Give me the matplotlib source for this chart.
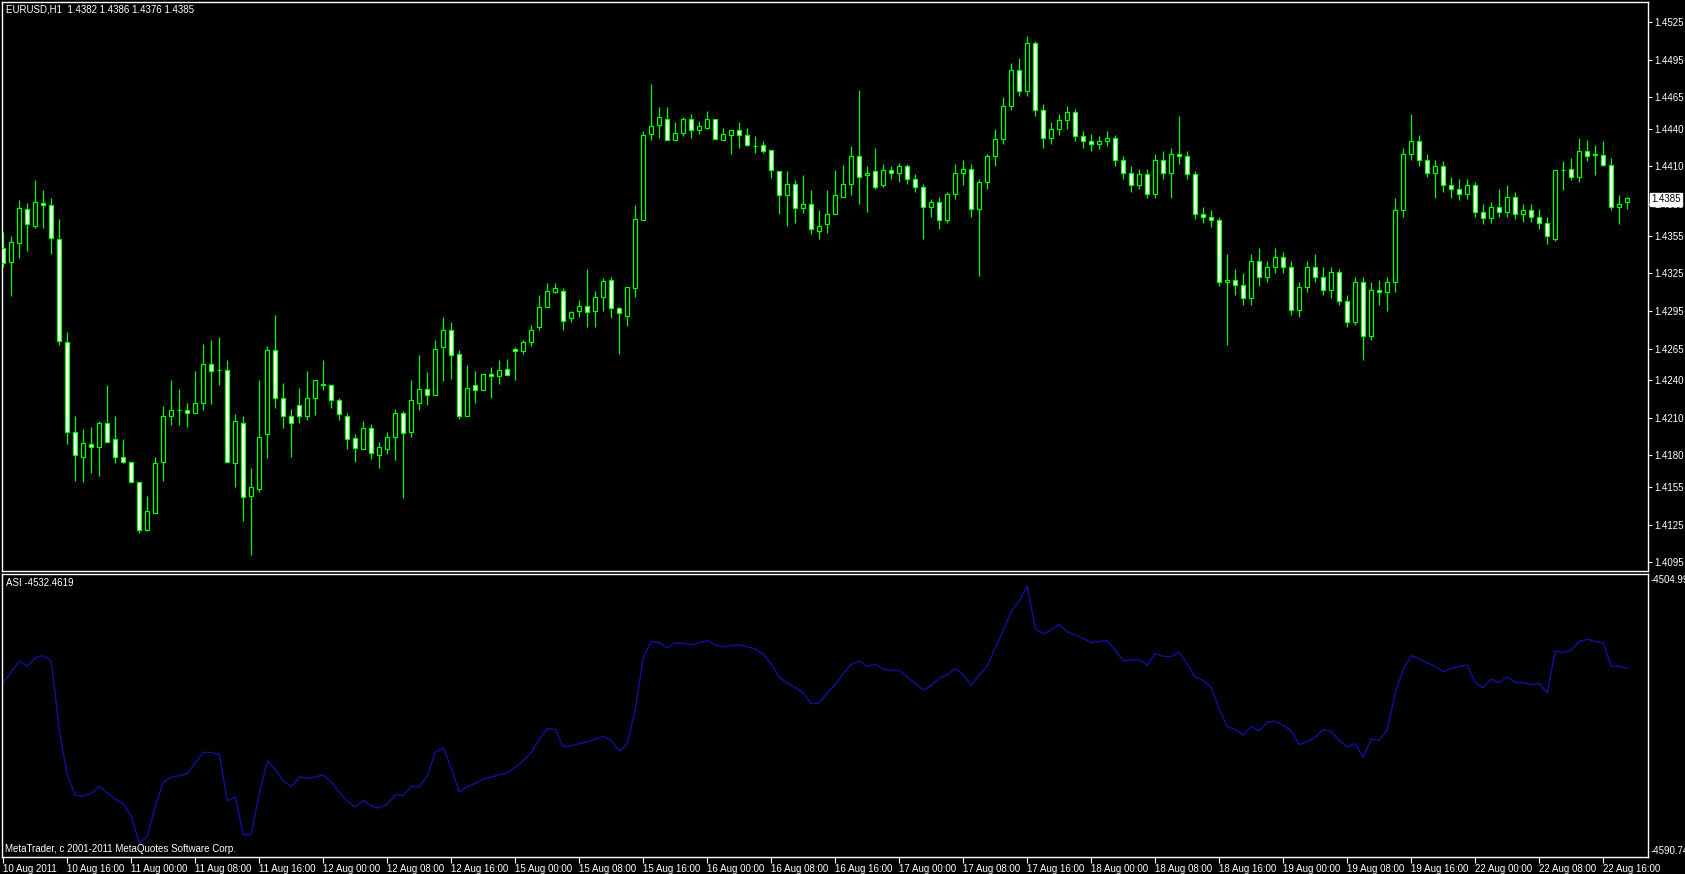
import matplotlib
matplotlib.use("Agg")
import matplotlib.pyplot as plt

W, H = 1685, 874
LIME, ASI_BLUE = "#00FF00", "#1010A0"
plt.rcParams.update({"font.family": "Liberation Sans", "font.size": 7})

header = "EURUSD,H1  1.4382 1.4386 1.4376 1.4385"
asi_title = "ASI -4532.4619"
credit = "MetaTrader, c 2001-2011 MetaQuotes Software Corp."
last_price = 1.4385
asi_max, asi_min = -4504.99, -4590.74

opens = [1.4345, 1.4334, 1.4349, 1.4376, 1.4363, 1.4381, 1.4379, 1.4352, 1.4270, 1.4199,
         1.4179, 1.4189, 1.4187, 1.4206, 1.4193, 1.4179, 1.4175, 1.4159, 1.4121, 1.4134,
         1.4175, 1.4211, 1.4216, 1.4216, 1.4214, 1.4222, 1.4253, 1.4248, 1.4248, 1.4174,
         1.4206, 1.4148, 1.4153, 1.4197, 1.4264, 1.4226, 1.4211, 1.4220, 1.4211, 1.4226,
         1.4237, 1.4236, 1.4224, 1.4211, 1.4194, 1.4185, 1.4202, 1.4180, 1.4185, 1.4195,
         1.4214, 1.4199, 1.4222, 1.4233, 1.4228, 1.4266, 1.4280, 1.4261, 1.4211, 1.4236,
         1.4232, 1.4245, 1.4243, 1.4249, 1.4265, 1.4263, 1.4270, 1.4282, 1.4298, 1.4310,
         1.4311, 1.4289, 1.4295, 1.4299, 1.4295, 1.4306, 1.4320, 1.4297, 1.4291, 1.4313,
         1.4367, 1.4436, 1.4443, 1.4448, 1.4431, 1.4437, 1.4448, 1.4439, 1.4441, 1.4448,
         1.4431, 1.4435, 1.4439, 1.4435, 1.4426, 1.4427, 1.4423, 1.4406, 1.4387, 1.4396,
         1.4377, 1.4380, 1.4359, 1.4364, 1.4372, 1.4386, 1.4396, 1.4418, 1.4403, 1.4406,
         1.4395, 1.4407, 1.4405, 1.4410, 1.4400, 1.4394, 1.4378, 1.4382, 1.4367, 1.4388,
         1.4405, 1.4408, 1.4376, 1.4398, 1.4418, 1.4432, 1.4458, 1.4487, 1.4470, 1.4508,
         1.4455, 1.4433, 1.4440, 1.4447, 1.4453, 1.4434, 1.4430, 1.4428, 1.4430, 1.4433,
         1.4415, 1.4405, 1.4395, 1.4404, 1.4388, 1.4415, 1.4405, 1.4420, 1.4418, 1.4404,
         1.4372, 1.4370, 1.4367, 1.4318, 1.4320, 1.4316, 1.4305, 1.4335, 1.4322, 1.4330,
         1.4338, 1.4330, 1.4296, 1.4314, 1.4330, 1.4322, 1.4312, 1.4326, 1.4303, 1.4286,
         1.4318, 1.4275, 1.4312, 1.4310, 1.4318, 1.4375, 1.4420, 1.4430, 1.4415, 1.4405,
         1.4410, 1.4395, 1.4392, 1.4388, 1.4395, 1.4374, 1.4369, 1.4378, 1.4374, 1.4386,
         1.4372, 1.4375, 1.4370, 1.4365, 1.4352, 1.4407, 1.4408, 1.4402, 1.4422, 1.4420,
         1.4419, 1.4411, 1.4378, 1.4382]
highs = [1.4358, 1.4355, 1.4383, 1.4381, 1.4399, 1.4391, 1.4385, 1.4368, 1.4278, 1.4211,
         1.4201, 1.4203, 1.4207, 1.4236, 1.4211, 1.4193, 1.4175, 1.4159, 1.4148, 1.4179,
         1.4219, 1.4240, 1.4233, 1.4222, 1.4247, 1.4269, 1.4272, 1.4274, 1.4256, 1.4213,
         1.4211, 1.4170, 1.4240, 1.4267, 1.4292, 1.4238, 1.4217, 1.4234, 1.4247, 1.4240,
         1.4256, 1.4237, 1.4226, 1.4214, 1.4197, 1.4207, 1.4205, 1.4191, 1.4199, 1.4217,
         1.4215, 1.4240, 1.4260, 1.4246, 1.4272, 1.4290, 1.4286, 1.4264, 1.4252, 1.4247,
         1.4245, 1.4250, 1.4256, 1.4257, 1.4266, 1.4272, 1.4284, 1.4308, 1.4317, 1.4317,
         1.4313, 1.4295, 1.4304, 1.4328, 1.4311, 1.4321, 1.4322, 1.4298, 1.4314, 1.4379,
         1.4438, 1.4476, 1.4457, 1.4457, 1.4445, 1.4449, 1.4452, 1.4446, 1.4454, 1.4448,
         1.4441, 1.4439, 1.4445, 1.4441, 1.4434, 1.4430, 1.4423, 1.4406, 1.4406, 1.4399,
         1.4403, 1.4391, 1.4375, 1.4391, 1.4407, 1.4411, 1.4426, 1.4471, 1.4410, 1.4425,
         1.4412, 1.4410, 1.4413, 1.4412, 1.4404, 1.4396, 1.4384, 1.4386, 1.4390, 1.4412,
         1.4415, 1.4412, 1.4400, 1.4420, 1.4440, 1.4465, 1.4492, 1.4496, 1.4514, 1.4510,
         1.4460, 1.4445, 1.4452, 1.4458, 1.4456, 1.4438, 1.4436, 1.4434, 1.4438, 1.4435,
         1.4418, 1.4410, 1.4408, 1.4408, 1.4420, 1.4422, 1.4425, 1.4450, 1.4422, 1.4406,
         1.4378, 1.4375, 1.4370, 1.4340, 1.4328, 1.4325, 1.4340, 1.4345, 1.4335, 1.4345,
         1.4342, 1.4335, 1.4318, 1.4335, 1.4340, 1.4330, 1.4330, 1.4328, 1.4308, 1.4322,
         1.4322, 1.4318, 1.4320, 1.4322, 1.4385, 1.4425, 1.4452, 1.4435, 1.4420, 1.4415,
         1.4414, 1.4402, 1.4400, 1.4400, 1.4398, 1.4380, 1.4382, 1.4392, 1.4395, 1.4390,
         1.4380, 1.4380, 1.4376, 1.4370, 1.4407, 1.4414, 1.4417, 1.4433, 1.4431, 1.4427,
         1.4430, 1.4417, 1.4387, 1.4386]
lows = [1.4330, 1.4307, 1.4337, 1.4343, 1.4361, 1.4361, 1.4340, 1.4268, 1.4189, 1.4160,
        1.4159, 1.4166, 1.4164, 1.4191, 1.4174, 1.4174, 1.4159, 1.4118, 1.4120, 1.4134,
        1.4160, 1.4204, 1.4204, 1.4203, 1.4214, 1.4216, 1.4221, 1.4236, 1.4174, 1.4155,
        1.4128, 1.4101, 1.4151, 1.4178, 1.4218, 1.4202, 1.4179, 1.4206, 1.4208, 1.4212,
        1.4232, 1.4218, 1.4208, 1.4185, 1.4175, 1.4185, 1.4177, 1.4170, 1.4181, 1.4176,
        1.4146, 1.4195, 1.4216, 1.4220, 1.4228, 1.4239, 1.4241, 1.4209, 1.4211, 1.4222,
        1.4232, 1.4226, 1.4237, 1.4244, 1.4240, 1.4261, 1.4267, 1.4280, 1.4298, 1.4309,
        1.4280, 1.4286, 1.4290, 1.4282, 1.4282, 1.4295, 1.4289, 1.4261, 1.4283, 1.4306,
        1.4367, 1.4431, 1.4433, 1.4431, 1.4431, 1.4434, 1.4433, 1.4436, 1.4440, 1.4432,
        1.4431, 1.4420, 1.4425, 1.4426, 1.4421, 1.4421, 1.4401, 1.4372, 1.4363, 1.4365,
        1.4373, 1.4356, 1.4352, 1.4357, 1.4372, 1.4386, 1.4387, 1.4380, 1.4374, 1.4392,
        1.4394, 1.4400, 1.4398, 1.4396, 1.4390, 1.4352, 1.4370, 1.4360, 1.4365, 1.4384,
        1.4395, 1.4370, 1.4323, 1.4392, 1.4410, 1.4428, 1.4455, 1.4466, 1.4466, 1.4450,
        1.4425, 1.4428, 1.4435, 1.4440, 1.4430, 1.4425, 1.4422, 1.4424, 1.4426, 1.4410,
        1.4400, 1.4390, 1.4392, 1.4385, 1.4385, 1.4400, 1.4385, 1.4412, 1.4400, 1.4368,
        1.4365, 1.4362, 1.4315, 1.4268, 1.4308, 1.4300, 1.4300, 1.4315, 1.4318, 1.4325,
        1.4325, 1.4292, 1.4290, 1.4310, 1.4318, 1.4308, 1.4305, 1.4300, 1.4282, 1.4284,
        1.4256, 1.4272, 1.4300, 1.4295, 1.4310, 1.4370, 1.4415, 1.4410, 1.4402, 1.4385,
        1.4390, 1.4385, 1.4383, 1.4384, 1.4370, 1.4364, 1.4365, 1.4370, 1.4370, 1.4368,
        1.4366, 1.4366, 1.4360, 1.4348, 1.4351, 1.4391, 1.4399, 1.4398, 1.4414, 1.4403,
        1.4410, 1.4375, 1.4364, 1.4376]
closes = [1.4333, 1.4350, 1.4377, 1.4364, 1.4382, 1.4379, 1.4353, 1.4271, 1.4199, 1.4180,
          1.4190, 1.4187, 1.4206, 1.4191, 1.4179, 1.4175, 1.4159, 1.4121, 1.4136, 1.4174,
          1.4211, 1.4216, 1.4216, 1.4214, 1.4222, 1.4253, 1.4247, 1.4248, 1.4175, 1.4207,
          1.4147, 1.4155, 1.4195, 1.4264, 1.4226, 1.4211, 1.4206, 1.4211, 1.4226, 1.4240,
          1.4236, 1.4224, 1.4213, 1.4193, 1.4186, 1.4202, 1.4182, 1.4187, 1.4195, 1.4214,
          1.4198, 1.4224, 1.4233, 1.4228, 1.4265, 1.4280, 1.4260, 1.4211, 1.4234, 1.4232,
          1.4245, 1.4243, 1.4248, 1.4244, 1.4263, 1.4270, 1.4280, 1.4298, 1.4311, 1.4313,
          1.4287, 1.4294, 1.4299, 1.4294, 1.4306, 1.4319, 1.4297, 1.4293, 1.4314, 1.4368,
          1.4435, 1.4442, 1.4449, 1.4431, 1.4437, 1.4448, 1.4439, 1.4442, 1.4448, 1.4432,
          1.4436, 1.4439, 1.4435, 1.4427, 1.4426, 1.4422, 1.4407, 1.4387, 1.4396, 1.4377,
          1.4380, 1.4360, 1.4363, 1.4372, 1.4387, 1.4396, 1.4418, 1.4402, 1.4405, 1.4394,
          1.4407, 1.4405, 1.4410, 1.4400, 1.4394, 1.4378, 1.4382, 1.4367, 1.4388, 1.4405,
          1.4408, 1.4376, 1.4398, 1.4418, 1.4432, 1.4458, 1.4487, 1.4470, 1.4508, 1.4455,
          1.4433, 1.4440, 1.4447, 1.4453, 1.4434, 1.4430, 1.4428, 1.4430, 1.4433, 1.4415,
          1.4405, 1.4395, 1.4404, 1.4388, 1.4415, 1.4405, 1.4420, 1.4418, 1.4404, 1.4372,
          1.4370, 1.4367, 1.4318, 1.4320, 1.4316, 1.4305, 1.4335, 1.4322, 1.4330, 1.4338,
          1.4330, 1.4296, 1.4314, 1.4330, 1.4322, 1.4312, 1.4326, 1.4303, 1.4286, 1.4318,
          1.4275, 1.4312, 1.4310, 1.4318, 1.4375, 1.4420, 1.4430, 1.4415, 1.4405, 1.4410,
          1.4395, 1.4392, 1.4388, 1.4395, 1.4374, 1.4369, 1.4378, 1.4374, 1.4386, 1.4372,
          1.4375, 1.4370, 1.4365, 1.4355, 1.4407, 1.4407, 1.4402, 1.4422, 1.4418, 1.4419,
          1.4411, 1.4378, 1.4380, 1.4385]
asi = [-4537.2, -4533.6, -4530.0, -4531.8, -4528.9, -4528.2, -4530.0, -4553.3, -4568.3, -4574.8,
       -4575.1, -4574.1, -4571.9, -4574.1, -4576.2, -4577.7, -4582.0, -4590.74, -4588.4, -4578.4,
       -4570.5, -4568.7, -4568.3, -4567.6, -4564.0, -4560.5, -4560.5, -4561.2, -4576.6, -4575.5,
       -4588.1, -4587.7, -4574.1, -4563.3, -4566.2, -4570.1, -4571.9, -4568.7, -4569.1, -4568.7,
       -4568.0, -4570.5, -4573.7, -4576.9, -4578.7, -4576.6, -4578.4, -4579.1, -4577.7, -4574.8,
       -4574.8, -4571.9, -4571.9, -4568.3, -4560.5, -4559.0, -4565.8, -4573.7, -4571.9, -4570.8,
       -4569.4, -4568.7, -4568.0, -4567.3, -4565.5, -4563.3, -4560.5, -4556.1, -4552.6, -4552.9,
       -4558.7, -4558.3, -4557.6, -4556.9, -4556.1, -4555.1, -4556.5, -4560.1, -4557.6, -4546.1,
       -4528.9, -4523.5, -4523.9, -4525.7, -4523.9, -4524.2, -4524.6, -4523.9, -4523.2, -4524.6,
       -4525.3, -4524.9, -4524.6, -4525.3, -4526.0, -4527.8, -4531.1, -4535.4, -4537.5, -4538.9,
       -4540.7, -4544.3, -4544.0, -4540.7, -4537.9, -4534.3, -4531.1, -4530.0, -4531.8, -4531.1,
       -4532.8, -4533.2, -4533.2, -4535.4, -4537.5, -4539.7, -4538.2, -4535.7, -4534.6, -4532.5,
       -4534.6, -4538.2, -4534.6, -4531.8, -4525.7, -4519.9, -4513.5, -4509.9, -4504.99, -4519.2,
       -4521.0, -4519.6, -4517.8, -4520.3, -4521.4, -4522.5, -4523.9, -4523.5, -4523.2, -4526.4,
       -4530.0, -4529.6, -4529.6, -4531.4, -4527.5, -4528.5, -4528.5, -4527.1, -4531.1, -4535.4,
       -4536.4, -4538.9, -4546.1, -4551.9, -4552.9, -4554.7, -4551.9, -4553.3, -4550.4, -4550.1,
       -4551.5, -4553.3, -4557.9, -4556.9, -4555.4, -4552.9, -4553.6, -4556.5, -4558.7, -4557.6,
       -4562.2, -4556.1, -4556.5, -4552.9, -4540.7, -4532.8, -4528.2, -4529.3, -4530.7, -4531.8,
       -4533.6, -4532.5, -4531.8, -4531.4, -4537.2, -4538.9, -4536.1, -4537.2, -4535.4, -4537.2,
       -4537.2, -4537.9, -4537.5, -4540.7, -4526.7, -4527.1, -4526.4, -4523.5, -4522.8, -4523.5,
       -4523.9, -4531.8, -4531.8, -4532.46]

price_ticks = [1.4525, 1.4495, 1.4465, 1.4440, 1.4410, 1.4380, 1.4355, 1.4325,
               1.4295, 1.4265, 1.4240, 1.4210, 1.4180, 1.4155, 1.4125, 1.4095]
time_labels = ["10 Aug 2011", "10 Aug 16:00", "11 Aug 00:00", "11 Aug 08:00", "11 Aug 16:00",
               "12 Aug 00:00", "12 Aug 08:00", "12 Aug 16:00", "15 Aug 00:00", "15 Aug 08:00",
               "15 Aug 16:00", "16 Aug 00:00", "16 Aug 08:00", "16 Aug 16:00", "17 Aug 00:00",
               "17 Aug 08:00", "17 Aug 16:00", "18 Aug 00:00", "18 Aug 08:00", "18 Aug 16:00",
               "19 Aug 00:00", "19 Aug 08:00", "19 Aug 16:00", "22 Aug 00:00", "22 Aug 08:00",
               "22 Aug 16:00"]


def fx(px):
    return px / W


def fy(py):
    return 1 - py / H


fig = plt.figure(figsize=(W / 100, H / 100), dpi=100, facecolor="black")
ax = fig.add_axes([fx(2), fy(571), fx(1648) - fx(2), fy(2) - fy(571)])
ax2 = fig.add_axes([fx(2), fy(857), fx(1648) - fx(2), fy(574) - fy(857)])
for a in (ax, ax2):
    a.set_facecolor("black")
    for s in a.spines.values():
        s.set_color("white"); s.set_linewidth(1.0)
    a.set_xlim(-0.17, 205.6)

# ---- candles: white body = bear, black body = bull ----
n = len(opens)
xs = list(range(n))
ax.vlines(xs, lows, highs, color=LIME, lw=0.9, zorder=2)
bottoms = [min(o, c) for o, c in zip(opens, closes)]
heights = [abs(c - o) for o, c in zip(opens, closes)]
faces = ["white" if c < o else "black" for o, c in zip(opens, closes)]
ax.bar(xs, heights, bottom=bottoms, width=0.5, color=faces, edgecolor=LIME, linewidth=0.9, zorder=3)
ax.set_ylim(1.4088, 1.45409)
ax.yaxis.tick_right()
ax.set_yticks(price_ticks)
ax.set_yticklabels([f"{v:.4f}" for v in price_ticks])
ax.tick_params(axis="y", colors="white", length=3, width=0.8, pad=1.5, labelsize=7)
ax.tick_params(axis="x", bottom=False, labelbottom=False)
fig.text(fx(6), fy(10), header, color="white", fontsize=7, va="center")
fig.text(fx(1651), fy(199.5), f"{last_price:.4f}", color="black", fontsize=7, va="center",
         bbox=dict(boxstyle="square,pad=0.15", fc="white", ec="white"))

# ---- ASI ----
ax2.plot(range(len(asi)), asi, color=ASI_BLUE, lw=1.0)
ax2.set_ylim(-4595.41, -4500.99)
ax2.set_yticks([])
ax2.set_xticks(list(range(0, 8 * len(time_labels), 8)))
ax2.set_xticklabels(time_labels, ha="left")
ax2.tick_params(axis="x", colors="white", length=4, width=0.8, pad=1, labelsize=7)
fig.text(fx(6), fy(583), asi_title, color="white", fontsize=7, va="center")
fig.text(fx(5), fy(849), credit, color="white", fontsize=7, va="center")
fig.text(fx(1651), fy(580), f"{asi_max:.2f}", color="white", fontsize=7, va="center")
fig.text(fx(1651), fy(851), f"{asi_min:.2f}", color="white", fontsize=7, va="center")

fig.savefig("out.png", dpi=100, facecolor="black")
